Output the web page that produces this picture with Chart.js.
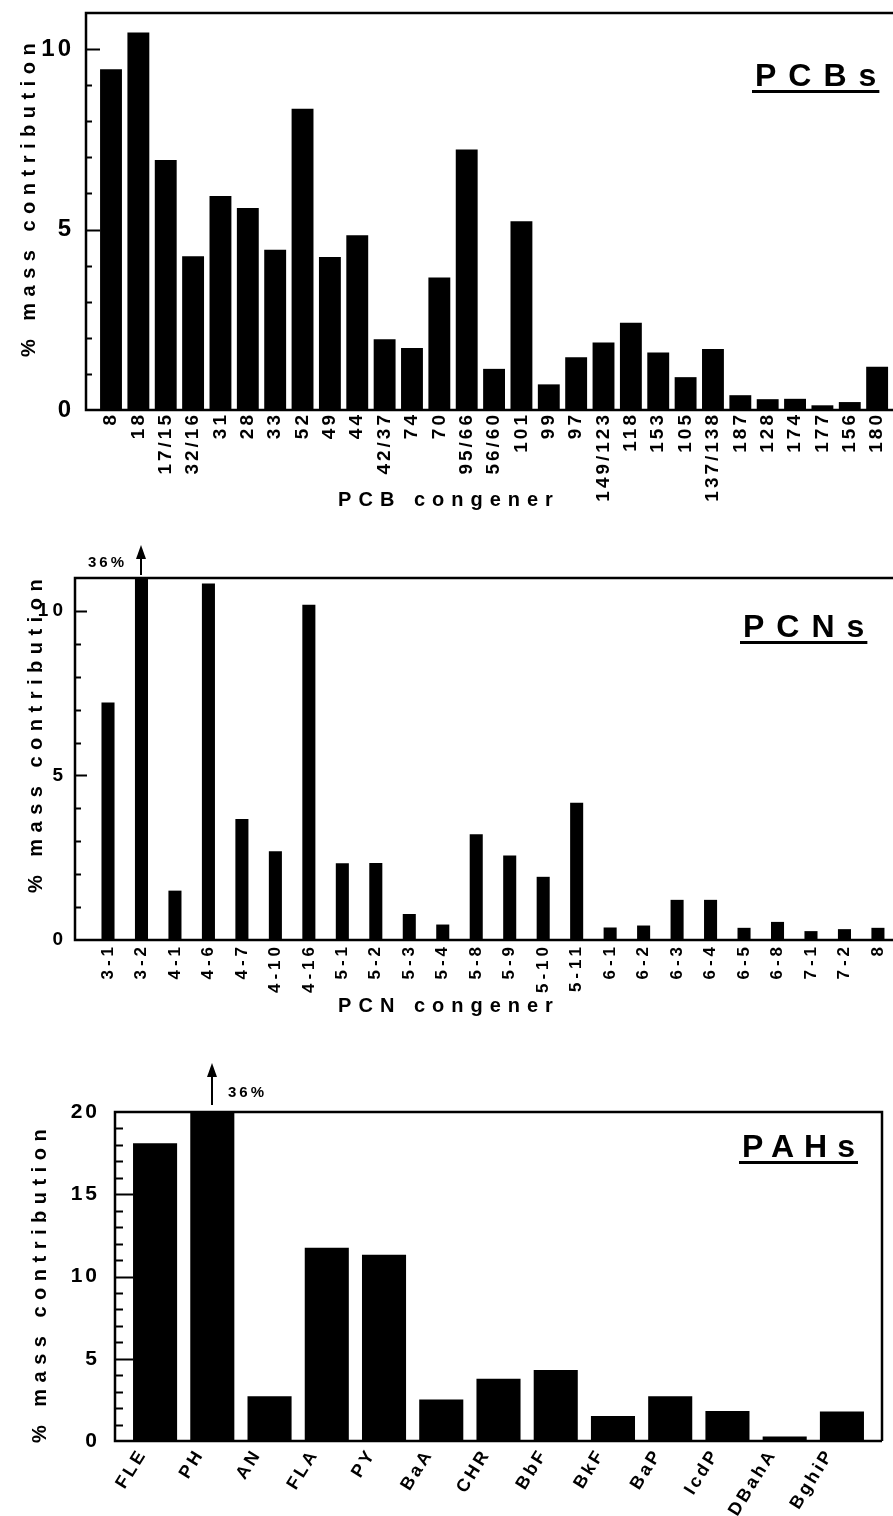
<!DOCTYPE html>
<html>
<head>
<meta charset="utf-8">
<script src="https://cdn.jsdelivr.net/npm/chart.js@4.4.1/dist/chart.umd.min.js"></script>
<style>
  html, body { margin: 0; padding: 0; background: #fff; overflow: hidden; }
  #wrap { position: relative; width: 893px; height: 1516px; }
  canvas { position: absolute; left: 0; }
</style>
</head>
<body>
<div id="wrap">
  <canvas id="pcb" width="893" height="520" style="top:0"></canvas>
  <canvas id="pcn" width="893" height="500" style="top:520px"></canvas>
  <canvas id="pah" width="893" height="496" style="top:1020px"></canvas>
</div>
<script>
// congener profiles, % mass contribution
const pcbLabels = ['8', '18', '17/15', '32/16', '31', '28', '33', '52', '49', '44', '42/37', '74', '70',
  '95/66', '56/60', '101', '99', '97', '149/123', '118', '153', '105', '137/138', '187', '128', '174',
  '177', '156', '180'];
const pcbValues = [9.44, 10.46, 6.93, 4.26, 5.93, 5.6, 4.44, 8.35, 4.24, 4.84, 1.96, 1.72, 3.67,
  7.22, 1.14, 5.23, 0.71, 1.46, 1.87, 2.42, 1.59, 0.91, 1.69, 0.41, 0.3, 0.31, 0.13, 0.22, 1.2];

const pcnLabels = ['3-1', '3-2', '4-1', '4-6', '4-7', '4-10', '4-16', '5-1', '5-2', '5-3', '5-4', '5-8',
  '5-9', '5-10', '5-11', '6-1', '6-2', '6-3', '6-4', '6-5', '6-8', '7-1', '7-2', '8'];
const pcnValues = [7.22, 36, 1.5, 10.83, 3.68, 2.7, 10.19, 2.33, 2.34, 0.79, 0.47, 3.21,
  2.57, 1.92, 4.17, 0.38, 0.44, 1.22, 1.22, 0.37, 0.55, 0.27, 0.33, 0.37];

const pahLabels = ['FLE', 'PH', 'AN', 'FLA', 'PY', 'BaA', 'CHR', 'BbF', 'BkF', 'BaP', 'IcdP', 'DBahA', 'BghiP'];
const pahValues = [18.1, 36, 2.72, 11.75, 11.32, 2.52, 3.78, 4.31, 1.52, 2.72, 1.83, 0.28, 1.8];

const yMaxPcb = 11, yMaxPcn = 11, yMaxPah = 20;
const majorStep = 5;

const FAMILY = "'Liberation Sans', Arial, sans-serif";

function spaced(ctx, text, x, y, size, spacing, align, rot) {
  ctx.save();
  ctx.font = 'bold ' + size + 'px ' + FAMILY;
  ctx.letterSpacing = spacing + 'px';
  ctx.fillStyle = '#000';
  ctx.textAlign = align;
  ctx.textBaseline = 'middle';
  ctx.translate(x, y);
  if (rot) ctx.rotate(rot);
  ctx.fillText(text, 0, 0);
  ctx.restore();
}

// frame, inner ticks, titles, panel name and the off-scale arrows
function decor(p) {
  return {
    id: 'decor',
    beforeDraw(chart) {
      chart.ctx.letterSpacing = p.tickSpacing + 'px';
    },
    afterDraw(chart) {
      const ctx = chart.ctx;
      const a = chart.chartArea;
      const x = chart.scales.x, y = chart.scales.y;
      ctx.save();
      ctx.letterSpacing = '0px';
      ctx.strokeStyle = '#000';
      ctx.lineWidth = 2.5;
      ctx.beginPath();
      if (p.frameRight) {
        ctx.moveTo(a.right, a.bottom);
        ctx.lineTo(a.right, a.top);
      } else {
        ctx.moveTo(a.right, a.top);
      }
      ctx.lineTo(a.left, a.top);
      ctx.lineTo(a.left, a.bottom);
      ctx.lineTo(a.right, a.bottom);
      ctx.stroke();

      ctx.lineWidth = 2;
      ctx.beginPath();
      for (let v = y.min + 1; v < y.max; v++) {
        const py = Math.round(y.getPixelForValue(v)) + 0.5;
        const len = v % majorStep === 0 ? p.majorTick : p.minorTick;
        ctx.moveTo(a.left, py);
        ctx.lineTo(a.left + len, py);
      }
      ctx.stroke();

      // values beyond the axis get an arrow and their number
      p.values.forEach((v, i) => {
        if (v <= y.max) return;
        const px = Math.round(x.getPixelForValue(i + 1));
        const tip = a.top - p.arrow.rise;
        const foot = a.top - p.arrow.gap;
        ctx.beginPath();
        ctx.moveTo(px, foot);
        ctx.lineTo(px, tip + 12);
        ctx.stroke();
        ctx.beginPath();
        ctx.moveTo(px, tip);
        ctx.lineTo(px - 5, tip + 14);
        ctx.lineTo(px + 5, tip + 14);
        ctx.closePath();
        ctx.fillStyle = '#000';
        ctx.fill();
        const txt = v + '%';
        if (p.arrow.side === 'left') {
          spaced(ctx, txt, px - 14, a.top + p.arrow.textDy, 15, 3, 'right');
        } else {
          spaced(ctx, txt, px + 16, a.top + p.arrow.textDy, 15, 3, 'left');
        }
      });

      // y and x titles
      spaced(ctx, '% mass contribution', p.yTitle[0], p.yTitle[1], 20, 6.5, 'center', -Math.PI / 2);
      if (p.xTitle) spaced(ctx, p.xTitle, p.xTitlePos[0], p.xTitlePos[1], 20, 7, 'center');

      // panel name, underlined
      ctx.font = 'bold 32px ' + FAMILY;
      ctx.letterSpacing = p.name.spacing + 'px';
      ctx.fillStyle = '#000';
      ctx.textAlign = 'left';
      ctx.textBaseline = 'alphabetic';
      ctx.fillText(p.name.text, p.name.x, p.name.base);
      const w = ctx.measureText(p.name.text).width - p.name.spacing;
      ctx.fillRect(p.name.x - 3, p.name.base + 4, w + 6, 3);
      ctx.restore();
    }
  };
}

// keep the plot box exactly where the panel wants it
function noPad(s) {
  s.paddingTop = 0;
  s.paddingBottom = 0;
  s.paddingLeft = 0;
  s.paddingRight = 0;
}

function makeChart(id, p) {
  new Chart(document.getElementById(id), {
    type: 'bar',
    data: {
      datasets: [{
        data: p.values.map((v, i) => ({ x: i + 1, y: v })),
        backgroundColor: '#000',
        borderWidth: 0,
        barPercentage: p.barFrac,
        categoryPercentage: 1
      }]
    },
    options: {
      responsive: false,
      animation: false,
      devicePixelRatio: 1,
      layout: { padding: { left: 0, top: p.area.top, right: p.canvasW - p.area.right, bottom: 0 } },
      plugins: { legend: { display: false }, tooltip: { enabled: false } },
      scales: {
        x: {
          type: 'linear',
          offset: false,
          min: p.xMin,
          max: p.xMax,
          grid: { display: false, drawTicks: false, offset: false },
          border: { display: false },
          afterBuildTicks: (s) => { s.ticks = p.labels.map((_, i) => ({ value: i + 1 })); },
          afterFit: (s) => { s.height = p.canvasH - p.area.bottom; noPad(s); },
          ticks: {
            autoSkip: false,
            minRotation: p.labelRot,
            maxRotation: p.labelRot,
            padding: p.xPad,
            labelOffset: p.xShift,
            color: '#000',
            font: { family: FAMILY, size: p.xFont, weight: 'bold' },
            callback: (v) => p.labels[v - 1]
          }
        },
        y: {
          min: 0,
          max: p.yMax,
          grid: { display: false, drawTicks: false },
          border: { display: false },
          afterFit: (s) => { s.width = p.area.left; noPad(s); },
          ticks: {
            stepSize: 1,
            autoSkip: false,
            padding: p.yPad,
            color: '#000',
            font: { family: FAMILY, size: p.yFont, weight: 'bold' },
            callback: (v) => (v % majorStep === 0 ? String(v) : '')
          }
        }
      }
    },
    plugins: [decor(p)]
  });
}

makeChart('pcb', {
  labels: pcbLabels, values: pcbValues, yMax: yMaxPcb,
  canvasW: 893, canvasH: 520,
  area: { left: 86, top: 13, right: 893, bottom: 410 },
  xMin: 0.086, xMax: 29.58, barFrac: 0.8,
  labelRot: 90, xFont: 19, xPad: 2, xShift: 0, yFont: 24, yPad: 12, tickSpacing: 3,
  majorTick: 14, minorTick: 6, frameRight: false,
  yTitle: [29, 197], xTitle: 'PCB congener', xTitlePos: [449, 500],
  name: { text: 'PCBs', x: 755, base: 86, spacing: 12 }
});

makeChart('pcn', {
  labels: pcnLabels, values: pcnValues, yMax: yMaxPcn,
  canvasW: 893, canvasH: 500,
  area: { left: 75, top: 58, right: 893, bottom: 420 },
  xMin: 0.014, xMax: 24.45, barFrac: 0.39,
  labelRot: 90, xFont: 17, xPad: 3, xShift: 0, yFont: 19, yPad: 8, tickSpacing: 4,
  majorTick: 12, minorTick: 6, frameRight: false,
  arrow: { rise: 33, gap: 3, side: 'left', textDy: -15 },
  yTitle: [36, 213], xTitle: 'PCN congener', xTitlePos: [449, 486],
  name: { text: 'PCNs', x: 743, base: 117, spacing: 12 }
});

makeChart('pah', {
  labels: pahLabels, values: pahValues, yMax: yMaxPah,
  canvasW: 893, canvasH: 496,
  area: { left: 115, top: 92, right: 882, bottom: 421 },
  xMin: 0.30, xMax: 13.7, barFrac: 0.77,
  labelRot: 58, xFont: 18, xPad: 4, xShift: -12, yFont: 21, yPad: 15, tickSpacing: 3,
  majorTick: 18, minorTick: 8, frameRight: true,
  arrow: { rise: 49, gap: 7, side: 'right', textDy: -19 },
  yTitle: [40, 263], xTitle: null,
  name: { text: 'PAHs', x: 742, base: 137, spacing: 10 }
});
</script>
</body>
</html>
